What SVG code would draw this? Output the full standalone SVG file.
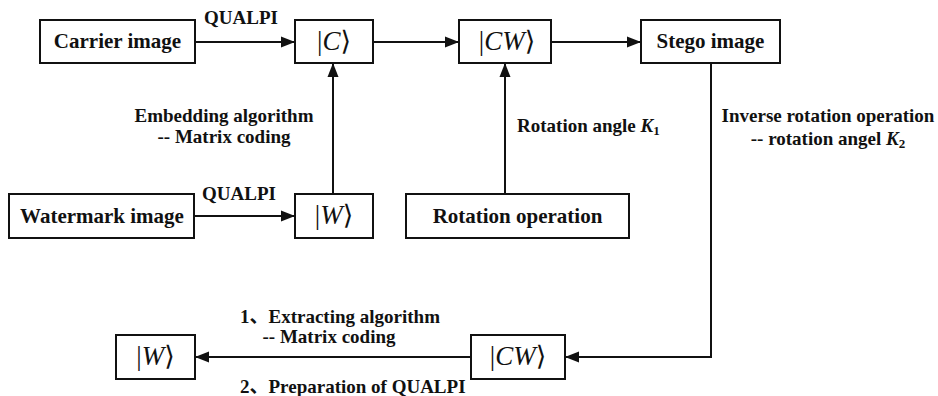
<svg xmlns="http://www.w3.org/2000/svg" width="938" height="396" viewBox="0 0 938 396">
<defs>
<style>
.box{fill:#fff;stroke:#111;stroke-width:2}
.bt{font-family:'Liberation Serif','DejaVu Serif',serif;font-weight:bold;font-size:21px;fill:#111;text-anchor:middle}
.lb{font-family:'Liberation Serif','DejaVu Serif','Noto Sans CJK SC',serif;font-weight:bold;font-size:19px;fill:#111}
.ket{font-family:'Liberation Serif','DejaVu Serif',serif;font-size:27px;fill:#111;text-anchor:middle}
.ln{fill:none;stroke:#111;stroke-width:2}
</style>
<marker id="ah" markerUnits="userSpaceOnUse" markerWidth="15" markerHeight="12" refX="14" refY="6" orient="auto">
<path d="M0,0.5 L14,6 L0,11.5 Z" fill="#111"/>
</marker>
</defs>
<rect width="938" height="396" fill="#fff"/>
<g id="connectors">
<line class="ln" x1="195" y1="42" x2="295" y2="42" marker-end="url(#ah)"/>
<line class="ln" x1="373" y1="42" x2="459" y2="42" marker-end="url(#ah)"/>
<line class="ln" x1="551" y1="42" x2="641" y2="42" marker-end="url(#ah)"/>
<line class="ln" x1="194" y1="216" x2="295" y2="216" marker-end="url(#ah)"/>
<line class="ln" x1="333" y1="194" x2="333" y2="63" marker-end="url(#ah)"/>
<line class="ln" x1="505" y1="194" x2="505" y2="63" marker-end="url(#ah)"/>
<polyline class="ln" points="711,63 711,357 565,357" marker-end="url(#ah)"/>
<line class="ln" x1="471" y1="357" x2="195" y2="357" marker-end="url(#ah)"/>
<text class="lb" x="241" y="24" text-anchor="middle">QUALPI</text>
<text class="lb" x="239" y="200" text-anchor="middle">QUALPI</text>
<text class="lb" x="224" y="122" text-anchor="middle">Embedding algorithm</text>
<text class="lb" x="224" y="143" text-anchor="middle">-- Matrix coding</text>
<text class="lb" x="517" y="132">Rotation angle <tspan font-style="italic">K</tspan><tspan font-size="13" dy="3">1</tspan></text>
<text class="lb" x="828" y="122" text-anchor="middle">Inverse rotation operation</text>
<text class="lb" x="828" y="145" text-anchor="middle">-- rotation angel <tspan font-style="italic">K</tspan><tspan font-size="13" dy="3">2</tspan></text>
<text class="lb" x="240" y="323">1、Extracting algorithm</text>
<text class="lb" x="329" y="343" text-anchor="middle">-- Matrix coding</text>
<text class="lb" x="240" y="393">2、Preparation of QUALPI</text>
</g>
<g id="carrier"><rect class="box" x="40" y="20" width="155" height="43"/><text class="bt" x="117.5" y="48">Carrier image</text></g>
<g id="ketC"><rect class="box" x="295" y="20" width="78" height="43"/><text class="ket" x="334" y="50">|<tspan font-style="italic">C</tspan>⟩</text></g>
<g id="ketCW"><rect class="box" x="459" y="20" width="92" height="43"/><text class="ket" x="507" y="50">|<tspan font-style="italic">CW</tspan>⟩</text></g>
<g id="stego"><rect class="box" x="641" y="20" width="139" height="43"/><text class="bt" x="710.5" y="48">Stego image</text></g>
<g id="watermark"><rect class="box" x="9" y="194" width="185" height="44"/><text class="bt" x="102" y="223">Watermark image</text></g>
<g id="ketW"><rect class="box" x="295" y="194" width="78" height="44"/><text class="ket" x="334" y="224">|<tspan font-style="italic">W</tspan>⟩</text></g>
<g id="rotation"><rect class="box" x="406" y="194" width="223" height="44"/><text class="bt" x="517.5" y="223">Rotation operation</text></g>
<g id="ketCW2"><rect class="box" x="471" y="335" width="94" height="44"/><text class="ket" x="518" y="365">|<tspan font-style="italic">CW</tspan>⟩</text></g>
<g id="ketW2"><rect class="box" x="116" y="335" width="79" height="44"/><text class="ket" x="155.5" y="365">|<tspan font-style="italic">W</tspan>⟩</text></g>
</svg>
